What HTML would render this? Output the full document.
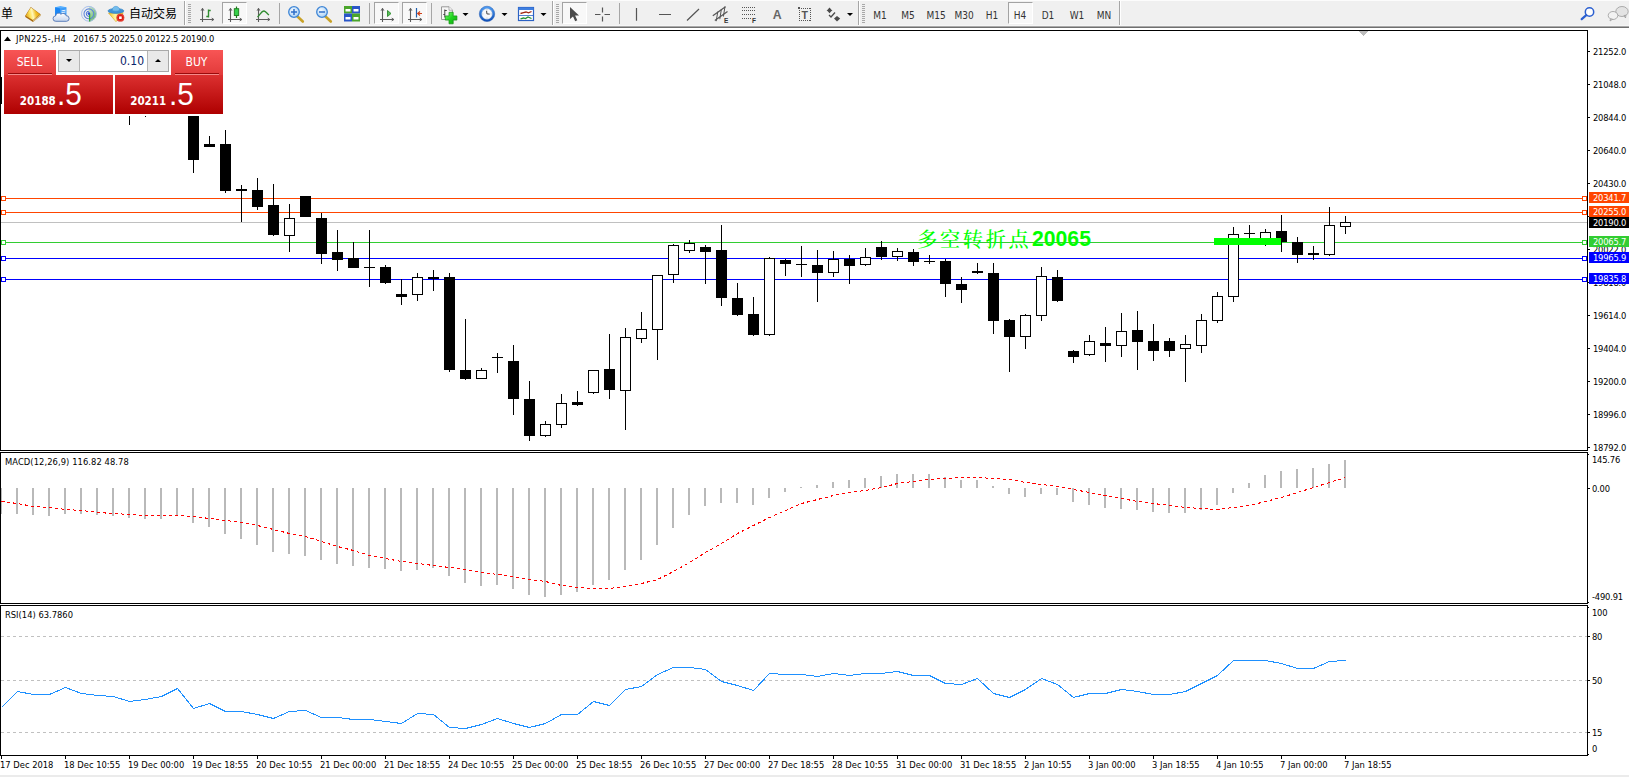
<!DOCTYPE html>
<html lang="zh"><head><meta charset="utf-8"><title>JPN225 H4</title>
<style>
html,body{margin:0;padding:0}
body{width:1629px;height:777px;position:relative;overflow:hidden;background:#fff;
 font-family:"Liberation Sans","Noto Sans CJK SC",sans-serif;}
#g{position:absolute;left:0;top:0}
.t{position:absolute;font-family:"DejaVu Sans Condensed","Liberation Sans",sans-serif;font-size:9.3px;line-height:12px;color:#000;white-space:nowrap}
.tag{position:absolute;left:1589px;width:40px;height:11px;color:#fff;font-family:"DejaVu Sans Condensed","Liberation Sans",sans-serif;font-size:9.3px;line-height:12px;letter-spacing:-.2px;
 padding-left:4px;box-sizing:border-box;white-space:nowrap;overflow:hidden}
.note{position:absolute;line-height:28px;color:#00ff00;white-space:nowrap}
.note.cjk{font-family:"Liberation Serif","Noto Serif CJK SC",serif;font-size:20.2px;letter-spacing:2.65px;font-weight:500}
.note.num{font-family:"Liberation Sans",sans-serif;font-size:21.2px;font-weight:bold}
#tb{position:absolute;left:0;top:0;width:1629px;height:28px;background:#f0f0f0}
#tb .e0{position:absolute;left:0;top:0;width:1629px;height:1px;background:#fcfcfc}
#tb .e1{position:absolute;left:0;top:25px;width:1629px;height:1px;background:#f5f5f5}
#tb .e2{position:absolute;left:0;top:26px;width:1629px;height:1px;background:#a9a9a9}
#tb .e3{position:absolute;left:0;top:27px;width:1629px;height:1px;background:#6f6f6f}
#bot{position:absolute;left:0;top:775px;width:1629px;height:2px;background:#ebebeb}
.oc{position:absolute;left:4px;top:50px;width:219px;height:64px}
.sell,.buy{position:absolute;top:0;width:52px;height:25px;background:linear-gradient(#f85555,#e23a3a);
 color:#fff;font-family:"DejaVu Sans Condensed","Liberation Sans",sans-serif;font-size:12px;text-align:center;line-height:24px;text-indent:-1px}
.sell{left:0}.buy{left:167px}
.sell i,.buy i{position:absolute;left:4px;right:4px;bottom:0;height:1px;background:#f58a8a;box-shadow:0 -1px 0 #9a0a0a}
.spin{position:absolute;left:54px;top:0;width:111px;height:22px;box-sizing:border-box;border:1px solid #a9a9a9;background:#fff}
.sb{position:absolute;top:0;width:20px;height:20px;background:#e9e9e9}
.sb.l{left:0;border-right:1px solid #b5b5b5}.sb.r{right:0;border-left:1px solid #b5b5b5}
.sb s{position:absolute;left:7px;width:0;height:0;border-left:3px solid transparent;border-right:3px solid transparent}
.sb s.dn{top:8px;border-top:3px solid #000}
.sb s.up{top:8px;border-bottom:3px solid #000}
.vol{position:absolute;left:21px;width:64px;top:0;height:20px;text-align:right;font-family:"DejaVu Sans Condensed","Liberation Sans",sans-serif;font-size:12px;line-height:20px;color:#0a246a}
.pb{position:absolute;top:25px;height:39px;background:linear-gradient(#dc3030,#ae0000);color:#fff}
.pl{left:0;width:109px}.pr{left:111px;width:108px}
.pb .sm{position:absolute;top:19px;font-family:"DejaVu Sans Condensed","Liberation Sans",sans-serif;font-size:11.5px;font-weight:bold;line-height:14px}
.pb .bg{position:absolute;top:-1px;font-size:32px;line-height:40px;transform:scaleX(.93);transform-origin:0 0}
.pl .sm{left:15.8px}.pl .bg{left:53.3px}
.pr .sm{left:15.2px}.pr .bg{left:53.5px}
</style></head><body>
<svg id="g" width="1629" height="777" viewBox="0 0 1629 777" shape-rendering="crispEdges">
<rect x="1" y="198" width="1586" height="1" fill="#ff4500"/>
<rect x="1" y="212" width="1586" height="1" fill="#ff4500"/>
<rect x="1" y="222" width="1586" height="1" fill="#c0c0c0"/>
<rect x="1" y="242" width="1586" height="1" fill="#32cd32"/>
<rect x="1" y="258" width="1586" height="1" fill="#0000ff"/>
<rect x="1" y="279" width="1586" height="1" fill="#0000ff"/>
<rect x="129" y="96" width="1" height="29" fill="#000"/>
<rect x="124" y="104" width="11" height="1" fill="#000"/>
<rect x="145" y="98" width="1" height="19" fill="#000"/>
<rect x="140" y="108" width="11" height="1" fill="#000"/>
<rect x="193" y="100" width="1" height="73" fill="#000"/>
<rect x="188" y="106" width="11" height="54" fill="#000"/>
<rect x="209" y="136" width="1" height="11" fill="#000"/>
<rect x="204" y="144" width="11" height="3" fill="#000"/>
<rect x="225" y="130" width="1" height="63" fill="#000"/>
<rect x="220" y="144" width="11" height="47" fill="#000"/>
<rect x="241" y="185" width="1" height="37" fill="#000"/>
<rect x="236" y="189" width="11" height="2" fill="#000"/>
<rect x="257" y="178" width="1" height="32" fill="#000"/>
<rect x="252" y="190" width="11" height="17" fill="#000"/>
<rect x="273" y="184" width="1" height="52" fill="#000"/>
<rect x="268" y="205" width="11" height="30" fill="#000"/>
<rect x="289" y="204" width="1" height="48" fill="#000"/>
<rect x="284" y="218" width="11" height="18" fill="#000"/>
<rect x="285" y="219" width="9" height="16" fill="#fff"/>
<rect x="305" y="196" width="1" height="21" fill="#000"/>
<rect x="300" y="196" width="11" height="21" fill="#000"/>
<rect x="321" y="213" width="1" height="51" fill="#000"/>
<rect x="316" y="218" width="11" height="36" fill="#000"/>
<rect x="337" y="230" width="1" height="41" fill="#000"/>
<rect x="332" y="252" width="11" height="8" fill="#000"/>
<rect x="353" y="242" width="1" height="26" fill="#000"/>
<rect x="348" y="258" width="11" height="10" fill="#000"/>
<rect x="369" y="230" width="1" height="57" fill="#000"/>
<rect x="364" y="267" width="11" height="1" fill="#000"/>
<rect x="385" y="265" width="1" height="19" fill="#000"/>
<rect x="380" y="267" width="11" height="16" fill="#000"/>
<rect x="401" y="279" width="1" height="26" fill="#000"/>
<rect x="396" y="294" width="11" height="3" fill="#000"/>
<rect x="417" y="273" width="1" height="28" fill="#000"/>
<rect x="412" y="277" width="11" height="18" fill="#000"/>
<rect x="413" y="278" width="9" height="16" fill="#fff"/>
<rect x="433" y="270" width="1" height="21" fill="#000"/>
<rect x="428" y="277" width="11" height="2" fill="#000"/>
<rect x="449" y="273" width="1" height="99" fill="#000"/>
<rect x="444" y="277" width="11" height="93" fill="#000"/>
<rect x="465" y="319" width="1" height="61" fill="#000"/>
<rect x="460" y="370" width="11" height="9" fill="#000"/>
<rect x="481" y="368" width="1" height="11" fill="#000"/>
<rect x="476" y="370" width="11" height="9" fill="#000"/>
<rect x="477" y="371" width="9" height="7" fill="#fff"/>
<rect x="497" y="353" width="1" height="20" fill="#000"/>
<rect x="492" y="357" width="11" height="1" fill="#000"/>
<rect x="513" y="345" width="1" height="70" fill="#000"/>
<rect x="508" y="361" width="11" height="38" fill="#000"/>
<rect x="529" y="381" width="1" height="60" fill="#000"/>
<rect x="524" y="399" width="11" height="37" fill="#000"/>
<rect x="545" y="421" width="1" height="16" fill="#000"/>
<rect x="540" y="424" width="11" height="12" fill="#000"/>
<rect x="541" y="425" width="9" height="10" fill="#fff"/>
<rect x="561" y="394" width="1" height="34" fill="#000"/>
<rect x="556" y="403" width="11" height="22" fill="#000"/>
<rect x="557" y="404" width="9" height="20" fill="#fff"/>
<rect x="577" y="391" width="1" height="15" fill="#000"/>
<rect x="572" y="402" width="11" height="3" fill="#000"/>
<rect x="593" y="370" width="1" height="24" fill="#000"/>
<rect x="588" y="370" width="11" height="23" fill="#000"/>
<rect x="589" y="371" width="9" height="21" fill="#fff"/>
<rect x="609" y="334" width="1" height="65" fill="#000"/>
<rect x="604" y="369" width="11" height="21" fill="#000"/>
<rect x="625" y="328" width="1" height="102" fill="#000"/>
<rect x="620" y="337" width="11" height="54" fill="#000"/>
<rect x="621" y="338" width="9" height="52" fill="#fff"/>
<rect x="641" y="312" width="1" height="31" fill="#000"/>
<rect x="636" y="329" width="11" height="10" fill="#000"/>
<rect x="637" y="330" width="9" height="8" fill="#fff"/>
<rect x="657" y="275" width="1" height="85" fill="#000"/>
<rect x="652" y="275" width="11" height="55" fill="#000"/>
<rect x="653" y="276" width="9" height="53" fill="#fff"/>
<rect x="673" y="244" width="1" height="39" fill="#000"/>
<rect x="668" y="245" width="11" height="30" fill="#000"/>
<rect x="669" y="246" width="9" height="28" fill="#fff"/>
<rect x="689" y="240" width="1" height="13" fill="#000"/>
<rect x="684" y="243" width="11" height="8" fill="#000"/>
<rect x="685" y="244" width="9" height="6" fill="#fff"/>
<rect x="705" y="245" width="1" height="39" fill="#000"/>
<rect x="700" y="247" width="11" height="5" fill="#000"/>
<rect x="721" y="225" width="1" height="81" fill="#000"/>
<rect x="716" y="250" width="11" height="48" fill="#000"/>
<rect x="737" y="283" width="1" height="33" fill="#000"/>
<rect x="732" y="298" width="11" height="17" fill="#000"/>
<rect x="753" y="297" width="1" height="39" fill="#000"/>
<rect x="748" y="314" width="11" height="21" fill="#000"/>
<rect x="769" y="257" width="1" height="79" fill="#000"/>
<rect x="764" y="258" width="11" height="77" fill="#000"/>
<rect x="765" y="259" width="9" height="75" fill="#fff"/>
<rect x="785" y="259" width="1" height="17" fill="#000"/>
<rect x="780" y="260" width="11" height="4" fill="#000"/>
<rect x="801" y="246" width="1" height="31" fill="#000"/>
<rect x="796" y="264" width="11" height="1" fill="#000"/>
<rect x="817" y="250" width="1" height="52" fill="#000"/>
<rect x="812" y="265" width="11" height="8" fill="#000"/>
<rect x="833" y="251" width="1" height="26" fill="#000"/>
<rect x="828" y="259" width="11" height="14" fill="#000"/>
<rect x="829" y="260" width="9" height="12" fill="#fff"/>
<rect x="849" y="255" width="1" height="29" fill="#000"/>
<rect x="844" y="259" width="11" height="7" fill="#000"/>
<rect x="865" y="248" width="1" height="18" fill="#000"/>
<rect x="860" y="257" width="11" height="8" fill="#000"/>
<rect x="861" y="258" width="9" height="6" fill="#fff"/>
<rect x="881" y="241" width="1" height="19" fill="#000"/>
<rect x="876" y="247" width="11" height="10" fill="#000"/>
<rect x="897" y="248" width="1" height="13" fill="#000"/>
<rect x="892" y="251" width="11" height="6" fill="#000"/>
<rect x="893" y="252" width="9" height="4" fill="#fff"/>
<rect x="913" y="249" width="1" height="17" fill="#000"/>
<rect x="908" y="252" width="11" height="10" fill="#000"/>
<rect x="929" y="255" width="1" height="9" fill="#000"/>
<rect x="924" y="261" width="11" height="1" fill="#000"/>
<rect x="945" y="259" width="1" height="38" fill="#000"/>
<rect x="940" y="261" width="11" height="23" fill="#000"/>
<rect x="961" y="277" width="1" height="26" fill="#000"/>
<rect x="956" y="284" width="11" height="6" fill="#000"/>
<rect x="977" y="263" width="1" height="11" fill="#000"/>
<rect x="972" y="271" width="11" height="2" fill="#000"/>
<rect x="993" y="263" width="1" height="71" fill="#000"/>
<rect x="988" y="273" width="11" height="48" fill="#000"/>
<rect x="1009" y="319" width="1" height="53" fill="#000"/>
<rect x="1004" y="320" width="11" height="17" fill="#000"/>
<rect x="1025" y="314" width="1" height="35" fill="#000"/>
<rect x="1020" y="315" width="11" height="22" fill="#000"/>
<rect x="1021" y="316" width="9" height="20" fill="#fff"/>
<rect x="1041" y="267" width="1" height="54" fill="#000"/>
<rect x="1036" y="276" width="11" height="40" fill="#000"/>
<rect x="1037" y="277" width="9" height="38" fill="#fff"/>
<rect x="1057" y="270" width="1" height="32" fill="#000"/>
<rect x="1052" y="277" width="11" height="24" fill="#000"/>
<rect x="1073" y="350" width="1" height="13" fill="#000"/>
<rect x="1068" y="351" width="11" height="6" fill="#000"/>
<rect x="1089" y="335" width="1" height="21" fill="#000"/>
<rect x="1084" y="341" width="11" height="14" fill="#000"/>
<rect x="1085" y="342" width="9" height="12" fill="#fff"/>
<rect x="1105" y="327" width="1" height="35" fill="#000"/>
<rect x="1100" y="343" width="11" height="3" fill="#000"/>
<rect x="1121" y="313" width="1" height="44" fill="#000"/>
<rect x="1116" y="331" width="11" height="15" fill="#000"/>
<rect x="1117" y="332" width="9" height="13" fill="#fff"/>
<rect x="1137" y="311" width="1" height="59" fill="#000"/>
<rect x="1132" y="330" width="11" height="12" fill="#000"/>
<rect x="1153" y="324" width="1" height="37" fill="#000"/>
<rect x="1148" y="341" width="11" height="10" fill="#000"/>
<rect x="1169" y="338" width="1" height="19" fill="#000"/>
<rect x="1164" y="341" width="11" height="10" fill="#000"/>
<rect x="1185" y="335" width="1" height="47" fill="#000"/>
<rect x="1180" y="344" width="11" height="5" fill="#000"/>
<rect x="1181" y="345" width="9" height="3" fill="#fff"/>
<rect x="1201" y="314" width="1" height="39" fill="#000"/>
<rect x="1196" y="320" width="11" height="26" fill="#000"/>
<rect x="1197" y="321" width="9" height="24" fill="#fff"/>
<rect x="1217" y="292" width="1" height="31" fill="#000"/>
<rect x="1212" y="296" width="11" height="25" fill="#000"/>
<rect x="1213" y="297" width="9" height="23" fill="#fff"/>
<rect x="1233" y="227" width="1" height="75" fill="#000"/>
<rect x="1228" y="234" width="11" height="63" fill="#000"/>
<rect x="1229" y="235" width="9" height="61" fill="#fff"/>
<rect x="1249" y="225" width="1" height="14" fill="#000"/>
<rect x="1244" y="233" width="11" height="1" fill="#000"/>
<rect x="1265" y="229" width="1" height="17" fill="#000"/>
<rect x="1260" y="232" width="11" height="13" fill="#000"/>
<rect x="1261" y="233" width="9" height="11" fill="#fff"/>
<rect x="1281" y="215" width="1" height="37" fill="#000"/>
<rect x="1276" y="231" width="11" height="11" fill="#000"/>
<rect x="1297" y="237" width="1" height="26" fill="#000"/>
<rect x="1292" y="242" width="11" height="13" fill="#000"/>
<rect x="1313" y="246" width="1" height="14" fill="#000"/>
<rect x="1308" y="253" width="11" height="2" fill="#000"/>
<rect x="1329" y="207" width="1" height="49" fill="#000"/>
<rect x="1324" y="225" width="11" height="30" fill="#000"/>
<rect x="1325" y="226" width="9" height="28" fill="#fff"/>
<rect x="1345" y="216" width="1" height="18" fill="#000"/>
<rect x="1340" y="222" width="11" height="5" fill="#000"/>
<rect x="1341" y="223" width="9" height="3" fill="#fff"/>
<rect x="1" y="31" width="226" height="85" fill="#fff"/>
<rect x="1" y="77" width="1" height="27" fill="#000"/>
<polygon points="4,41 11,41 7.5,36.6" fill="#000" shape-rendering="geometricPrecision"/>
<rect x="1" y="196" width="5" height="5" fill="#ff4500"/>
<rect x="2" y="197" width="3" height="3" fill="#fff"/>
<rect x="1582" y="196" width="5" height="5" fill="#ff4500"/>
<rect x="1583" y="197" width="3" height="3" fill="#fff"/>
<rect x="1" y="210" width="5" height="5" fill="#ff4500"/>
<rect x="2" y="211" width="3" height="3" fill="#fff"/>
<rect x="1582" y="210" width="5" height="5" fill="#ff4500"/>
<rect x="1583" y="211" width="3" height="3" fill="#fff"/>
<rect x="1" y="240" width="5" height="5" fill="#32cd32"/>
<rect x="2" y="241" width="3" height="3" fill="#fff"/>
<rect x="1582" y="240" width="5" height="5" fill="#32cd32"/>
<rect x="1583" y="241" width="3" height="3" fill="#fff"/>
<rect x="1" y="256" width="5" height="5" fill="#0000ff"/>
<rect x="2" y="257" width="3" height="3" fill="#fff"/>
<rect x="1582" y="256" width="5" height="5" fill="#0000ff"/>
<rect x="1583" y="257" width="3" height="3" fill="#fff"/>
<rect x="1" y="277" width="5" height="5" fill="#0000ff"/>
<rect x="2" y="278" width="3" height="3" fill="#fff"/>
<rect x="1582" y="277" width="5" height="5" fill="#0000ff"/>
<rect x="1583" y="278" width="3" height="3" fill="#fff"/>
<rect x="1214" y="238" width="67" height="7" fill="#00ff00"/>
<rect x="0" y="488" width="2" height="26" fill="#b9b9b9"/>
<rect x="16" y="488" width="2" height="26" fill="#b9b9b9"/>
<rect x="32" y="488" width="2" height="27" fill="#b9b9b9"/>
<rect x="48" y="488" width="2" height="28" fill="#b9b9b9"/>
<rect x="64" y="488" width="2" height="26" fill="#b9b9b9"/>
<rect x="80" y="488" width="2" height="26" fill="#b9b9b9"/>
<rect x="96" y="488" width="2" height="27" fill="#b9b9b9"/>
<rect x="112" y="488" width="2" height="28" fill="#b9b9b9"/>
<rect x="128" y="488" width="2" height="30" fill="#b9b9b9"/>
<rect x="144" y="488" width="2" height="31" fill="#b9b9b9"/>
<rect x="160" y="488" width="2" height="31" fill="#b9b9b9"/>
<rect x="176" y="488" width="2" height="28" fill="#b9b9b9"/>
<rect x="192" y="488" width="2" height="35" fill="#b9b9b9"/>
<rect x="208" y="488" width="2" height="39" fill="#b9b9b9"/>
<rect x="224" y="488" width="2" height="46" fill="#b9b9b9"/>
<rect x="240" y="488" width="2" height="51" fill="#b9b9b9"/>
<rect x="256" y="488" width="2" height="57" fill="#b9b9b9"/>
<rect x="272" y="488" width="2" height="64" fill="#b9b9b9"/>
<rect x="288" y="488" width="2" height="66" fill="#b9b9b9"/>
<rect x="304" y="488" width="2" height="68" fill="#b9b9b9"/>
<rect x="320" y="488" width="2" height="72" fill="#b9b9b9"/>
<rect x="336" y="488" width="2" height="76" fill="#b9b9b9"/>
<rect x="352" y="488" width="2" height="78" fill="#b9b9b9"/>
<rect x="368" y="488" width="2" height="80" fill="#b9b9b9"/>
<rect x="384" y="488" width="2" height="81" fill="#b9b9b9"/>
<rect x="400" y="488" width="2" height="83" fill="#b9b9b9"/>
<rect x="416" y="488" width="2" height="82" fill="#b9b9b9"/>
<rect x="432" y="488" width="2" height="80" fill="#b9b9b9"/>
<rect x="448" y="488" width="2" height="88" fill="#b9b9b9"/>
<rect x="464" y="488" width="2" height="95" fill="#b9b9b9"/>
<rect x="480" y="488" width="2" height="98" fill="#b9b9b9"/>
<rect x="496" y="488" width="2" height="97" fill="#b9b9b9"/>
<rect x="512" y="488" width="2" height="101" fill="#b9b9b9"/>
<rect x="528" y="488" width="2" height="107" fill="#b9b9b9"/>
<rect x="544" y="488" width="2" height="109" fill="#b9b9b9"/>
<rect x="560" y="488" width="2" height="107" fill="#b9b9b9"/>
<rect x="576" y="488" width="2" height="104" fill="#b9b9b9"/>
<rect x="592" y="488" width="2" height="97" fill="#b9b9b9"/>
<rect x="608" y="488" width="2" height="92" fill="#b9b9b9"/>
<rect x="624" y="488" width="2" height="82" fill="#b9b9b9"/>
<rect x="640" y="488" width="2" height="72" fill="#b9b9b9"/>
<rect x="656" y="488" width="2" height="57" fill="#b9b9b9"/>
<rect x="672" y="488" width="2" height="40" fill="#b9b9b9"/>
<rect x="688" y="488" width="2" height="27" fill="#b9b9b9"/>
<rect x="704" y="488" width="2" height="18" fill="#b9b9b9"/>
<rect x="720" y="488" width="2" height="15" fill="#b9b9b9"/>
<rect x="736" y="488" width="2" height="15" fill="#b9b9b9"/>
<rect x="752" y="488" width="2" height="17" fill="#b9b9b9"/>
<rect x="768" y="488" width="2" height="10" fill="#b9b9b9"/>
<rect x="784" y="488" width="2" height="4" fill="#b9b9b9"/>
<rect x="800" y="487" width="2" height="1" fill="#b9b9b9"/>
<rect x="816" y="485" width="2" height="3" fill="#b9b9b9"/>
<rect x="832" y="482" width="2" height="6" fill="#b9b9b9"/>
<rect x="848" y="480" width="2" height="8" fill="#b9b9b9"/>
<rect x="864" y="478" width="2" height="10" fill="#b9b9b9"/>
<rect x="880" y="476" width="2" height="12" fill="#b9b9b9"/>
<rect x="896" y="474" width="2" height="14" fill="#b9b9b9"/>
<rect x="912" y="474" width="2" height="14" fill="#b9b9b9"/>
<rect x="928" y="474" width="2" height="14" fill="#b9b9b9"/>
<rect x="944" y="477" width="2" height="11" fill="#b9b9b9"/>
<rect x="960" y="480" width="2" height="8" fill="#b9b9b9"/>
<rect x="976" y="480" width="2" height="8" fill="#b9b9b9"/>
<rect x="992" y="486" width="2" height="2" fill="#b9b9b9"/>
<rect x="1008" y="488" width="2" height="6" fill="#b9b9b9"/>
<rect x="1024" y="488" width="2" height="9" fill="#b9b9b9"/>
<rect x="1040" y="488" width="2" height="6" fill="#b9b9b9"/>
<rect x="1056" y="488" width="2" height="7" fill="#b9b9b9"/>
<rect x="1072" y="488" width="2" height="14" fill="#b9b9b9"/>
<rect x="1088" y="488" width="2" height="17" fill="#b9b9b9"/>
<rect x="1104" y="488" width="2" height="20" fill="#b9b9b9"/>
<rect x="1120" y="488" width="2" height="21" fill="#b9b9b9"/>
<rect x="1136" y="488" width="2" height="22" fill="#b9b9b9"/>
<rect x="1152" y="488" width="2" height="24" fill="#b9b9b9"/>
<rect x="1168" y="488" width="2" height="25" fill="#b9b9b9"/>
<rect x="1184" y="488" width="2" height="25" fill="#b9b9b9"/>
<rect x="1200" y="488" width="2" height="22" fill="#b9b9b9"/>
<rect x="1216" y="488" width="2" height="17" fill="#b9b9b9"/>
<rect x="1232" y="488" width="2" height="5" fill="#b9b9b9"/>
<rect x="1248" y="483" width="2" height="5" fill="#b9b9b9"/>
<rect x="1264" y="475" width="2" height="13" fill="#b9b9b9"/>
<rect x="1280" y="471" width="2" height="17" fill="#b9b9b9"/>
<rect x="1296" y="469" width="2" height="19" fill="#b9b9b9"/>
<rect x="1312" y="468" width="2" height="20" fill="#b9b9b9"/>
<rect x="1328" y="464" width="2" height="24" fill="#b9b9b9"/>
<rect x="1344" y="460" width="2" height="28" fill="#b9b9b9"/>
<polyline points="1.5,501.5 17.5,503.5 33.5,506.5 49.5,507.5 65.5,509.5 81.5,510.5 97.5,512.5 113.5,513.5 129.5,514.5 145.5,515.5 161.5,515.5 177.5,515.5 193.5,516.5 209.5,518.5 225.5,520.5 241.5,522.5 257.5,525.5 273.5,529.5 289.5,533.5 305.5,536.5 321.5,541.5 337.5,546.5 353.5,550.5 369.5,555.5 385.5,558.5 401.5,561.5 417.5,563.5 433.5,565.5 449.5,567.5 465.5,569.5 481.5,572.5 497.5,574.5 513.5,576.5 529.5,579.5 545.5,581.5 561.5,585.5 577.5,587.5 593.5,588.5 609.5,588.5 625.5,586.5 641.5,583.5 657.5,579.5 673.5,571.5 689.5,562.5 705.5,552.5 721.5,543.5 737.5,533.5 753.5,525.5 769.5,517.5 785.5,510.5 801.5,503.5 817.5,499.5 833.5,495.5 849.5,492.5 865.5,490.5 881.5,487.5 897.5,483.5 913.5,481.5 929.5,479.5 945.5,478.5 961.5,477.5 977.5,477.5 993.5,478.5 1009.5,479.5 1025.5,482.5 1041.5,484.5 1057.5,486.5 1073.5,489.5 1089.5,492.5 1105.5,495.5 1121.5,498.5 1137.5,501.5 1153.5,503.5 1169.5,505.5 1185.5,507.5 1201.5,508.5 1217.5,509.5 1233.5,507.5 1249.5,505.5 1265.5,501.5 1281.5,497.5 1297.5,492.5 1313.5,487.5 1329.5,482.5 1345.5,477.5" fill="none" stroke="#ff0000" stroke-width="1" stroke-dasharray="3 3"/>
<line x1="1" x2="1587" y1="636.5" y2="636.5" stroke="#c0c0c0" stroke-width="1" stroke-dasharray="3 3"/>
<line x1="1" x2="1587" y1="680.5" y2="680.5" stroke="#c0c0c0" stroke-width="1" stroke-dasharray="3 3"/>
<line x1="1" x2="1587" y1="732.5" y2="732.5" stroke="#c0c0c0" stroke-width="1" stroke-dasharray="3 3"/>
<polyline points="1.5,707.5 17.5,691.5 33.5,694.5 49.5,694.5 65.5,687.5 81.5,693.5 97.5,695.5 113.5,696.5 129.5,701.5 145.5,699.5 161.5,696.5 177.5,688.5 193.5,708.5 209.5,703.5 225.5,711.5 241.5,711.5 257.5,714.5 273.5,718.5 289.5,711.5 305.5,710.5 321.5,717.5 337.5,717.5 353.5,719.5 369.5,719.5 385.5,721.5 401.5,723.5 417.5,713.5 433.5,714.5 449.5,727.5 465.5,728.5 481.5,724.5 497.5,718.5 513.5,723.5 529.5,727.5 545.5,723.5 561.5,714.5 577.5,714.5 593.5,701.5 609.5,705.5 625.5,689.5 641.5,686.5 657.5,674.5 673.5,667.5 689.5,667.5 705.5,669.5 721.5,681.5 737.5,685.5 753.5,690.5 769.5,673.5 785.5,674.5 801.5,674.5 817.5,676.5 833.5,673.5 849.5,675.5 865.5,673.5 881.5,673.5 897.5,671.5 913.5,675.5 929.5,675.5 945.5,683.5 961.5,684.5 977.5,678.5 993.5,693.5 1009.5,697.5 1025.5,689.5 1041.5,678.5 1057.5,684.5 1073.5,697.5 1089.5,693.5 1105.5,693.5 1121.5,689.5 1137.5,691.5 1153.5,694.5 1169.5,694.5 1185.5,691.5 1201.5,683.5 1217.5,675.5 1233.5,660.5 1249.5,660.5 1265.5,660.5 1281.5,663.5 1297.5,668.5 1313.5,668.5 1329.5,661.5 1345.5,660.5" fill="none" stroke="#1e90ff" stroke-width="1"/>
<rect x="0" y="30" width="1588" height="1" fill="#000"/>
<rect x="0" y="30" width="1" height="421" fill="#000"/>
<rect x="1587" y="30" width="1" height="726" fill="#000"/>
<rect x="0" y="450" width="1588" height="1" fill="#000"/>
<rect x="0" y="452" width="1588" height="1" fill="#000"/>
<rect x="0" y="452" width="1" height="152" fill="#000"/>
<rect x="0" y="603" width="1588" height="1" fill="#000"/>
<rect x="0" y="605" width="1588" height="1" fill="#000"/>
<rect x="0" y="605" width="1" height="151" fill="#000"/>
<rect x="0" y="755" width="1588" height="1" fill="#000"/>
<rect x="1587" y="451" width="1" height="1" fill="#fff"/>
<rect x="1587" y="604" width="1" height="1" fill="#fff"/>
<rect x="1588" y="51" width="2" height="1" fill="#000"/>
<rect x="1588" y="84" width="2" height="1" fill="#000"/>
<rect x="1588" y="117" width="2" height="1" fill="#000"/>
<rect x="1588" y="150" width="2" height="1" fill="#000"/>
<rect x="1588" y="183" width="2" height="1" fill="#000"/>
<rect x="1588" y="216" width="2" height="1" fill="#000"/>
<rect x="1588" y="249" width="2" height="1" fill="#000"/>
<rect x="1588" y="282" width="2" height="1" fill="#000"/>
<rect x="1588" y="315" width="2" height="1" fill="#000"/>
<rect x="1588" y="348" width="2" height="1" fill="#000"/>
<rect x="1588" y="381" width="2" height="1" fill="#000"/>
<rect x="1588" y="414" width="2" height="1" fill="#000"/>
<rect x="1588" y="447" width="2" height="1" fill="#000"/>
<rect x="1588" y="454" width="1" height="1" fill="#000"/>
<rect x="1588" y="488" width="2" height="1" fill="#000"/>
<rect x="1588" y="602" width="1" height="1" fill="#000"/>
<rect x="1588" y="607" width="1" height="1" fill="#000"/>
<rect x="1588" y="636" width="2" height="1" fill="#000"/>
<rect x="1588" y="680" width="2" height="1" fill="#000"/>
<rect x="1588" y="732" width="2" height="1" fill="#000"/>
<rect x="1588" y="754" width="1" height="1" fill="#000"/>
<rect x="1" y="756" width="1" height="3" fill="#000"/>
<rect x="65" y="756" width="1" height="3" fill="#000"/>
<rect x="129" y="756" width="1" height="3" fill="#000"/>
<rect x="193" y="756" width="1" height="3" fill="#000"/>
<rect x="257" y="756" width="1" height="3" fill="#000"/>
<rect x="321" y="756" width="1" height="3" fill="#000"/>
<rect x="385" y="756" width="1" height="3" fill="#000"/>
<rect x="449" y="756" width="1" height="3" fill="#000"/>
<rect x="513" y="756" width="1" height="3" fill="#000"/>
<rect x="577" y="756" width="1" height="3" fill="#000"/>
<rect x="641" y="756" width="1" height="3" fill="#000"/>
<rect x="705" y="756" width="1" height="3" fill="#000"/>
<rect x="769" y="756" width="1" height="3" fill="#000"/>
<rect x="833" y="756" width="1" height="3" fill="#000"/>
<rect x="897" y="756" width="1" height="3" fill="#000"/>
<rect x="961" y="756" width="1" height="3" fill="#000"/>
<rect x="1025" y="756" width="1" height="3" fill="#000"/>
<rect x="1089" y="756" width="1" height="3" fill="#000"/>
<rect x="1153" y="756" width="1" height="3" fill="#000"/>
<rect x="1217" y="756" width="1" height="3" fill="#000"/>
<rect x="1281" y="756" width="1" height="3" fill="#000"/>
<rect x="1345" y="756" width="1" height="3" fill="#000"/>
<rect x="1359" y="31" width="9" height="1" fill="#bcbcbc"/>
<rect x="1360" y="32" width="7" height="1" fill="#bcbcbc"/>
<rect x="1361" y="33" width="5" height="1" fill="#bcbcbc"/>
<rect x="1362" y="34" width="3" height="1" fill="#bcbcbc"/>
<rect x="1363" y="35" width="1" height="1" fill="#bcbcbc"/>
</svg>
<div class="t" style="left:1593px;top:46px;letter-spacing:-.2px">21252.0</div>
<div class="t" style="left:1593px;top:79px;letter-spacing:-.2px">21048.0</div>
<div class="t" style="left:1593px;top:112px;letter-spacing:-.2px">20844.0</div>
<div class="t" style="left:1593px;top:145px;letter-spacing:-.2px">20640.0</div>
<div class="t" style="left:1593px;top:178px;letter-spacing:-.2px">20430.0</div>
<div class="t" style="left:1593px;top:211px;letter-spacing:-.2px">20226.0</div>
<div class="t" style="left:1593px;top:244px;letter-spacing:-.2px">20022.0</div>
<div class="t" style="left:1593px;top:277px;letter-spacing:-.2px">19818.0</div>
<div class="t" style="left:1593px;top:310px;letter-spacing:-.2px">19614.0</div>
<div class="t" style="left:1593px;top:343px;letter-spacing:-.2px">19404.0</div>
<div class="t" style="left:1593px;top:376px;letter-spacing:-.2px">19200.0</div>
<div class="t" style="left:1593px;top:409px;letter-spacing:-.2px">18996.0</div>
<div class="t" style="left:1593px;top:442px;letter-spacing:-.2px">18792.0</div>
<div class="t" style="left:1592px;top:454px;letter-spacing:-.2px">145.76</div>
<div class="t" style="left:1592px;top:483px;letter-spacing:-.2px">0.00</div>
<div class="t" style="left:1592px;top:591px;letter-spacing:-.2px">-490.91</div>
<div class="t" style="left:1592px;top:607px;letter-spacing:-.2px">100</div>
<div class="t" style="left:1592px;top:631px;letter-spacing:-.2px">80</div>
<div class="t" style="left:1592px;top:675px;letter-spacing:-.2px">50</div>
<div class="t" style="left:1592px;top:727px;letter-spacing:-.2px">15</div>
<div class="t" style="left:1592px;top:743px;letter-spacing:-.2px">0</div>
<div class="tag" style="top:192px;background:#ff4500">20341.7</div>
<div class="tag" style="top:206px;background:#ff4500">20255.0</div>
<div class="tag" style="top:217px;background:#000">20190.0</div>
<div class="tag" style="top:236px;background:#32cd32">20065.7</div>
<div class="tag" style="top:252px;background:#0000ff">19965.9</div>
<div class="tag" style="top:273px;background:#0000ff">19835.8</div>
<div class="t" style="left:0px;top:759px;">17 Dec 2018</div>
<div class="t" style="left:64px;top:759px;">18 Dec 10:55</div>
<div class="t" style="left:128px;top:759px;">19 Dec 00:00</div>
<div class="t" style="left:192px;top:759px;">19 Dec 18:55</div>
<div class="t" style="left:256px;top:759px;">20 Dec 10:55</div>
<div class="t" style="left:320px;top:759px;">21 Dec 00:00</div>
<div class="t" style="left:384px;top:759px;">21 Dec 18:55</div>
<div class="t" style="left:448px;top:759px;">24 Dec 10:55</div>
<div class="t" style="left:512px;top:759px;">25 Dec 00:00</div>
<div class="t" style="left:576px;top:759px;">25 Dec 18:55</div>
<div class="t" style="left:640px;top:759px;">26 Dec 10:55</div>
<div class="t" style="left:704px;top:759px;">27 Dec 00:00</div>
<div class="t" style="left:768px;top:759px;">27 Dec 18:55</div>
<div class="t" style="left:832px;top:759px;">28 Dec 10:55</div>
<div class="t" style="left:896px;top:759px;">31 Dec 00:00</div>
<div class="t" style="left:960px;top:759px;">31 Dec 18:55</div>
<div class="t" style="left:1024px;top:759px;">2 Jan 10:55</div>
<div class="t" style="left:1088px;top:759px;">3 Jan 00:00</div>
<div class="t" style="left:1152px;top:759px;">3 Jan 18:55</div>
<div class="t" style="left:1216px;top:759px;">4 Jan 10:55</div>
<div class="t" style="left:1280px;top:759px;">7 Jan 00:00</div>
<div class="t" style="left:1344px;top:759px;">7 Jan 18:55</div>
<div class="t" style="left:16px;top:33px;"><span style="letter-spacing:.32px;margin-right:1.2px">JPN225-,H4&nbsp; </span><span style="letter-spacing:-.18px">20167.5 20225.0 20122.5 20190.0</span></div>
<div class="t" style="left:5px;top:456px;letter-spacing:.07px">MACD(12,26,9) 116.82 48.78</div>
<div class="t" style="left:5px;top:609px;">RSI(14) 63.7860</div>
<div class="note cjk" style="left:917.2px;top:226px">多空转折点</div>
<div class="note num" style="left:1032px;top:225px">20065</div>

<div class="oc">
 <div class="sell"><span>SELL</span><i></i></div>
 <div class="buy"><span>BUY</span><i></i></div>
 <div class="spin"><div class="sb l"><s class="dn"></s></div><div class="vol">0.10</div><div class="sb r"><s class="up"></s></div></div>
 <div class="pb pl"><span class="sm">20188</span><span class="bg">.5</span></div>
 <div class="pb pr"><span class="sm">20211</span><span class="bg">.5</span></div>
</div>

<div id="tb"><div class="e0"></div><div class="e1"></div><div class="e2"></div><div class="e3"></div>
<style>
#tb .pr{position:absolute;top:2px;height:22px;width:25px;background:#f8f8f8;box-sizing:border-box;
 border-left:1px solid #a3a3a3;border-top:1px solid #a3a3a3;border-right:1px solid #fff;border-bottom:1px solid #fff}
#tb .sp{position:absolute;top:3px;width:1px;height:21px;background:#a6a6a6}
#tb .sp.tall{top:1px;height:24px;box-shadow:1px 0 0 #fff}
#tb .gr{position:absolute;top:4px;width:3px;height:19px;background:repeating-linear-gradient(#a8a8a8 0,#a8a8a8 1px,#f0f0f0 1px,#f0f0f0 2px)}
#tb .tf{position:absolute;top:10px;width:28px;text-align:center;font-family:"DejaVu Sans Condensed","Liberation Sans",sans-serif;font-size:10px;line-height:12px;color:#333}
#tb .cj{position:absolute;top:4.5px;font-size:12px;line-height:18px;color:#000;white-space:nowrap;font-family:"Liberation Sans","Noto Sans CJK SC",sans-serif}
#tbi{position:absolute;left:0;top:0}
</style>
<div class="cj" style="left:1px">单</div>
<div class="cj" style="left:129px">自动交易</div>
<div class="sp tall" style="left:184px"></div><div class="gr" style="left:188px"></div>
<div class="pr" style="left:222px"></div>
<div class="sp" style="left:279px"></div>
<div class="sp" style="left:369px"></div>
<div class="pr" style="left:374px"></div><div class="pr" style="left:402px"></div>
<div class="sp" style="left:431px"></div>
<div class="sp tall" style="left:552px"></div><div class="gr" style="left:556px"></div>
<div class="pr" style="left:562px"></div>
<div class="sp" style="left:619px"></div>
<div class="sp tall" style="left:858px"></div><div class="gr" style="left:862px"></div>
<div class="pr" style="left:1008px"></div>
<div class="sp tall" style="left:1119px"></div>
<div class="tf" style="left:866px">M1</div><div class="tf" style="left:894px">M5</div>
<div class="tf" style="left:922px">M15</div><div class="tf" style="left:950px">M30</div>
<div class="tf" style="left:978px">H1</div><div class="tf" style="left:1006px">H4</div>
<div class="tf" style="left:1034px">D1</div><div class="tf" style="left:1063px">W1</div>
<div class="tf" style="left:1090px">MN</div>
<svg id="tbi" width="1629" height="28" viewBox="0 0 1629 28">
<defs>
 <linearGradient id="gold" x1="0" y1=".6" x2="1" y2=".4"><stop offset="0" stop-color="#dca01c"/><stop offset=".3" stop-color="#ffe45e"/><stop offset=".48" stop-color="#fff6b8"/><stop offset=".7" stop-color="#f3c22c"/><stop offset="1" stop-color="#d89a14"/></linearGradient>
 <linearGradient id="cloud" x1="0" y1="0" x2="0" y2="1"><stop offset="0" stop-color="#ffffff"/><stop offset="1" stop-color="#c4d3ec"/></linearGradient>
 <linearGradient id="rgreen" x1="0" y1="0" x2="1" y2="1"><stop offset="0" stop-color="#8fd08f" stop-opacity=".35"/><stop offset="1" stop-color="#3ea63e" stop-opacity="1"/></linearGradient>
 <linearGradient id="cone" x1="0" y1="0" x2="1" y2="0"><stop offset="0" stop-color="#f2c21e"/><stop offset=".45" stop-color="#fff3a0"/><stop offset="1" stop-color="#f0c428"/></linearGradient>
 <linearGradient id="blu" x1="0" y1="0" x2="0" y2="1"><stop offset="0" stop-color="#4f9ff4"/><stop offset="1" stop-color="#0e4db6"/></linearGradient>
 <radialGradient id="lens" cx=".4" cy=".35" r=".7"><stop offset="0" stop-color="#f2f9ff"/><stop offset="1" stop-color="#a9d0f4"/></radialGradient>
 <g id="axes" fill="none" stroke="#5c5c5c" stroke-width="1.1">
  <path d="M2.5 1V14.5M0 12H13.600"/><path d="M1.100 3.200L2.500 .8L3.900 3.200M11.700 10.600L13.900 12L11.700 13.400" stroke-width="1"/>
 </g>
 <linearGradient id="plus" x1="0" y1="0" x2="1" y2="1"><stop offset="0" stop-color="#7dff6e"/><stop offset=".5" stop-color="#1fd41f"/><stop offset="1" stop-color="#12a812"/></linearGradient>
 <path id="dd" d="M0 0h6l-3 3z" fill="#000"/>
</defs>
<!-- yellow book -->
<g><path d="M25.200 15.800L30.800 7.100L40.600 14.300L40.400 15.900L33 21.900L25.300 17z" fill="#a96a10"/>
<path d="M33 20.400L40.500 14.600L40.400 15.900L33 21.800z" fill="#f3e6bd"/><path d="M33 21.100l7.400-5.800" stroke="#b98a30" stroke-width=".5"/>
<path d="M25.600 15.700L30.900 7.600L40.100 14.300L32.900 20z" fill="url(#gold)"/></g>
<!-- server + cloud -->
<g><path d="M55.100 7.300L60.500 6.100L66.300 7.300V15.500H55.100z" fill="#58b0ff"/><path d="M55.100 7.300L60.500 8.600V16H55.100z" fill="#1a86f4"/><path d="M60.500 8.600L66.300 7.300V15.500L60.500 16z" fill="#3d9cf8"/>
<path d="M61.500 10.900l4-.7M61.500 12.600l4-.6" stroke="#eaf4ff" stroke-width="1"/>
<path d="M55.900 21.300a2.700 2.700 0 0 1-.3-5.400 3 3 0 0 1 5.300-1.700 3.200 3.200 0 0 1 5.200 1.500 2.800 2.800 0 0 1 .4 5.600z" fill="url(#cloud)" stroke="#4f74b4" stroke-width=".9"/></g>
<!-- radar -->
<g fill="none"><path d="M88.900 6.200a7.600 7.600 0 0 1 0 15.200z" fill="url(#rgreen)"/>
<circle cx="88.900" cy="13.800" r="7.400" stroke="#a9c0ea" stroke-width="1"/><circle cx="88.900" cy="13.800" r="4.900" stroke="#5d86da" stroke-width="1.100"/><path d="M88.900 11.200a2.600 2.600 0 0 0 0 5.200" stroke="#3f6ed6" stroke-width="1"/>
<path d="M89.700 14v7.500" stroke="#21a121" stroke-width="1.100"/><circle cx="88.900" cy="13.600" r="1.300" fill="#2a55cc"/></g>
<!-- expert hat -->
<g><path d="M108.500 13L123.300 12.800L116 21.700z" fill="url(#cone)" stroke="#d2a21c" stroke-width=".6"/>
<ellipse cx="115.900" cy="10.900" rx="7.900" ry="2.500" fill="#3f93d6" stroke="#2c7cbf" stroke-width=".6"/><path d="M112.200 10.200c0-5.200 7.400-5.200 7.400 0c-1.600 1.300-5.800 1.300-7.400 0z" fill="#74bdec" stroke="#3a8fd0" stroke-width=".5"/>
<circle cx="120.400" cy="17.700" r="3.900" fill="#db1d12"/><circle cx="120.400" cy="17.700" r="3.400" fill="none" stroke="#f06a5a" stroke-width=".5"/><rect x="119.100" y="16.400" width="2.600" height="2.600" fill="#fff"/></g>
<!-- bar chart -->
<use href="#axes" x="200" y="7.5"/><path d="M208.5 9.5V17.5M208.5 10.5h2.2M206.3 16.5h2.2" stroke="#2e8b2e" stroke-width="1.4" fill="none"/>
<!-- candle chart -->
<use href="#axes" x="228" y="7.5"/><path d="M236.5 6.5V18" stroke="#1c7a1c" stroke-width="1.2"/><rect x="234.3" y="8.7" width="4.4" height="6.8" fill="#35d04a" stroke="#1c7a1c" stroke-width=".9"/>
<!-- line chart -->
<use href="#axes" x="256" y="7.5"/><path d="M257.5 17c2.5-2 4-6.3 6.5-6 2 .3 3 2.800 5 4" stroke="#2e8b2e" stroke-width="1.3" fill="none"/>
<!-- zoom in -->
<g><path d="M297.5 16.500l5.300 5" stroke="#c9a227" stroke-width="2.600" stroke-linecap="round"/><circle cx="294" cy="12" r="5.300" fill="url(#lens)" stroke="#3f86d6" stroke-width="1.300"/><path d="M291 12h6M294 9v6" stroke="#2f6fc8" stroke-width="1.500"/></g>
<!-- zoom out -->
<g><path d="M325.500 16.500l5.300 5" stroke="#c9a227" stroke-width="2.600" stroke-linecap="round"/><circle cx="322" cy="12" r="5.300" fill="url(#lens)" stroke="#3f86d6" stroke-width="1.300"/><path d="M319 12h6" stroke="#2f6fc8" stroke-width="1.500"/></g>
<!-- tile -->
<g><rect x="344" y="6" width="8" height="7.500" fill="#4aa52b"/><rect x="352" y="6" width="8" height="7.500" fill="#2a56c8"/><rect x="344" y="13.500" width="8" height="8" fill="#2a56c8"/><rect x="352" y="13.500" width="8" height="8" fill="#4aa52b"/>
<path d="M345.500 9h5v2.500h-5zM353.500 9h5v2.500h-5zM345.500 17h5v2.500h-5zM353.500 17h5v2.500h-5z" fill="#fff"/></g>
<!-- autoscroll -->
<use href="#axes" x="380" y="7.500"/><path d="M387.500 10.500v6l3.500-3z" fill="#59c05a" stroke="#2e8b2e" stroke-width=".9"/>
<!-- chart shift -->
<use href="#axes" x="408" y="7.500"/><path d="M416.500 8v9.500" stroke="#1e5fae" stroke-width="1.200"/><path d="M422 13.500h-4M420 11.500l-2.300 2 2.300 2" stroke="#d0421a" stroke-width="1.200" fill="none"/>
<!-- new indicator -->
<g><path d="M441.500 6.800h7.600l3.300 3.300v9.400h-10.900z" fill="#f6f6f6" stroke="#8f8f8f" stroke-width=".9"/><path d="M449 6.800v3.400h3.400" fill="#fff" stroke="#8f8f8f" stroke-width=".7"/>
<path d="M444.800 9.500v8M444.800 10.500h2M443.300 14.500h1.500" stroke="#333" stroke-width=".9" fill="none"/>
<path d="M449 12.300h4.200v3.600h3.700v4.200h-3.700v3.700h-4.200v-3.700h-3.700v-4.200h3.700z" fill="url(#plus)" stroke="#0f8f0f" stroke-width=".7"/></g>
<use href="#dd" x="462.500" y="13"/>
<!-- clock -->
<g><circle cx="487" cy="13.900" r="7.700" fill="url(#blu)" stroke="#1b55b0" stroke-width=".5"/><circle cx="487" cy="13.900" r="5.300" fill="#f7f8fb" stroke="#9db4d8" stroke-width=".5"/>
<path d="M486.600 10.800l.3 3.100 2.800.2" stroke="#444" stroke-width="1" fill="none"/><path d="M487 9.400v.8M487 17.600v.8M482.500 13.900h.8M490.700 13.900h.8" stroke="#9aa" stroke-width=".7"/></g>
<use href="#dd" x="501.500" y="13"/>
<!-- template -->
<g><rect x="518.500" y="7.500" width="15" height="13" fill="#fff" stroke="#2c62c4" stroke-width="1.200"/><rect x="518.500" y="7.500" width="15" height="2.500" fill="#3f7fe0"/><path d="M518.500 15.500h15" stroke="#2c62c4" stroke-width=".8"/>
<path d="M520.500 13.500l3-.8 2.500-.7 2.500.8 3-1.300" stroke="#a02a14" stroke-width="1.300" fill="none"/><path d="M520.500 18.800l3-.8 2 .6 2.500-1.600 3.500 1.500" stroke="#1f9030" stroke-width="1.300" fill="none"/></g>
<use href="#dd" x="540.500" y="13"/>
<!-- cursor -->
<path d="M570 7v12l3-2.600 2.200 4.800 2.100-1-2.200-4.600h3.900z" fill="#4a4a4a"/>
<!-- crosshair -->
<path d="M602.500 7.500v5M602.500 16.500v5M595 14.500h5.500M604.500 14.500h5.500" stroke="#555" stroke-width="1.200"/>
<!-- vline hline trendline -->
<path d="M636.500 8v12.800M659 14.500h12M687 20.500L699 9" stroke="#555" stroke-width="1.200"/>
<!-- channel -->
<g stroke="#555" stroke-width="1.200" fill="none"><path d="M712.800 15.800L725.500 6.800M714.800 20.600L727.500 11.600"/><path d="M716.200 21.200L717.800 11.500M719.800 19.200L721.400 9M723.400 16.600L725 6.400" stroke-width="1"/></g>
<text x="724" y="22.600" font-family="Liberation Sans,sans-serif" font-size="6.500" font-weight="bold" fill="#333">E</text>
<!-- fib -->
<path d="M742 7.500h13M742 10.500h13M742 14.500h13M742 18.500h9" stroke="#555" stroke-width="1" stroke-dasharray="1 1" shape-rendering="crispEdges"/>
<text x="752" y="22.800" font-family="Liberation Sans,sans-serif" font-size="6.500" font-weight="bold" fill="#333">F</text>
<!-- A -->
<text x="772.800" y="18.800" font-family="Liberation Sans,sans-serif" font-size="12.300" font-weight="bold" fill="#666">A</text>
<!-- text label -->
<path d="M799 8.500h12M799 20.500h12M799.500 8v13M810.500 8v13" fill="none" stroke="#555" stroke-width="1" stroke-dasharray="1 1" shape-rendering="crispEdges"/><rect x="798" y="7" width="2" height="2" fill="#555"/>
<text x="801.400" y="18.700" font-family="Liberation Sans,sans-serif" font-size="10.600" font-weight="bold" fill="#555">T</text>
<!-- arrows -->
<g fill="#4a4a4a"><path d="M826.500 11l3-3.500 3 3.500zM827.500 11h4l-2 2.300z"/><path d="M834 18.500l3 3 3.200-3-3.200-2.500z"/><path d="M829 15l2 2 4-4.500" stroke="#4a4a4a" stroke-width="1.300" fill="none"/></g>
<use href="#dd" x="847" y="13"/>
<!-- search -->
<g><circle cx="1589.500" cy="12" r="4.200" fill="#fdfdfd" stroke="#2b5fd0" stroke-width="1.500"/><path d="M1586.300 15.200l-4.600 4" stroke="#2b5fd0" stroke-width="2.200" stroke-linecap="round"/></g>
<!-- chat -->
<g stroke="#9a9a9a" stroke-width=".8"><ellipse cx="1622" cy="11.500" rx="6.200" ry="5" fill="#e3e3e3"/><path d="M1624 15.500l1.500 2.500.5-2.800z" fill="#e3e3e3"/>
<ellipse cx="1613" cy="15.500" rx="4.800" ry="4" fill="#f2f2f2"/><path d="M1610.500 18.800l-.5 2.200 2.500-1.700z" fill="#f2f2f2"/></g>
</svg>

</div>
<div id="bot"></div>
</body></html>
